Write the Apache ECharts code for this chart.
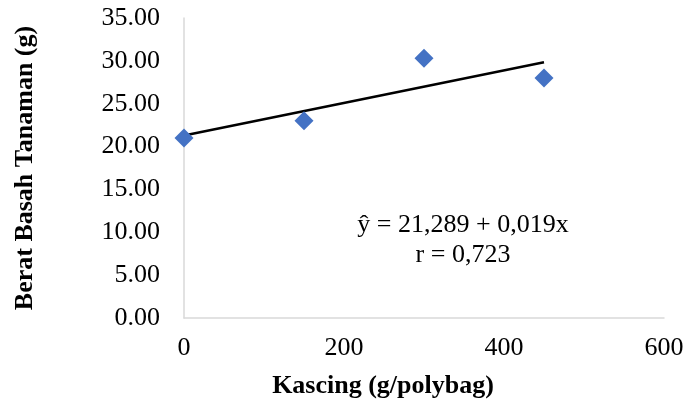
<!DOCTYPE html>
<html>
<head>
<meta charset="utf-8">
<script src="https://cdn.jsdelivr.net/npm/echarts@6/dist/echarts.min.js"></script>
<style>
  html, body { margin: 0; padding: 0; background: #fff; }
  #myChart { width: 690px; height: 408px; }
</style>
</head>
<body>
<div id="myChart"></div>
<script>
// data
var kascing = [0, 150, 300, 450];
var berat = [21.0, 23.0, 30.3, 28.0];
// trend line ends, from y = 21,289 + 0,019x
var trendX = [0, 450];
var trendY = [21.289, 29.839];
var eqLines = ['ŷ = 21,289 + 0,019x', 'r = 0,723'];

var font = '"Liberation Serif", "Times New Roman", serif';
var myChart = echarts.init(document.getElementById('myChart'));

myChart.setOption({
  animation: false,
  grid: { left: 184, right: 26, top: 18, bottom: 90 },
  xAxis: {
    type: 'value',
    min: 0, max: 600, interval: 200,
    name: 'Kascing (g/polybag)',
    nameLocation: 'middle',
    nameGap: 55,
    // title sits left of the plot centre in the original
    nameTextStyle: { fontFamily: font, fontSize: 26, fontWeight: 'bold', color: '#000', padding: [0, 82, 0, 0] },
    axisLine: { show: true, lineStyle: { color: '#d9d9d9', width: 1.5 } },
    axisTick: { show: false },
    splitLine: { show: false },
    axisLabel: { fontFamily: font, fontSize: 26, color: '#000', margin: 17 }
  },
  yAxis: {
    type: 'value',
    min: 0, max: 35, interval: 5,
    name: 'Berat Basah Tanaman (g)',
    nameLocation: 'middle',
    nameGap: 146,
    nameTextStyle: { fontFamily: font, fontSize: 26, fontWeight: 'bold', color: '#000' },
    axisLine: { show: true, lineStyle: { color: '#d9d9d9', width: 1.5 } },
    axisTick: { show: false },
    splitLine: { show: false },
    axisLabel: {
      fontFamily: font, fontSize: 26, color: '#000', margin: 24,
      formatter: function (v) { return v.toFixed(2) }
    }
  },
  series: [
    {
      type: 'line',
      data: trendX.map(function (x, i) { return [x, trendY[i]] }),
      symbol: 'none',
      lineStyle: { color: '#000', width: 2.5 },
      z: 2
    },
    {
      type: 'scatter',
      data: kascing.map(function (x, i) { return [x, berat[i]] }),
      symbol: 'diamond',
      symbolSize: [19, 19],
      itemStyle: { color: '#4472C4', opacity: 1 },
      z: 3
    }
  ],
  graphic: [
    {
      type: 'text',
      x: 463, y: 240,
      style: {
        text: eqLines.join('\n'),
        fontFamily: font, fontSize: 26, fill: '#000',
        align: 'center', verticalAlign: 'middle', lineHeight: 30
      }
    }
  ]
});
</script>
</body>
</html>
